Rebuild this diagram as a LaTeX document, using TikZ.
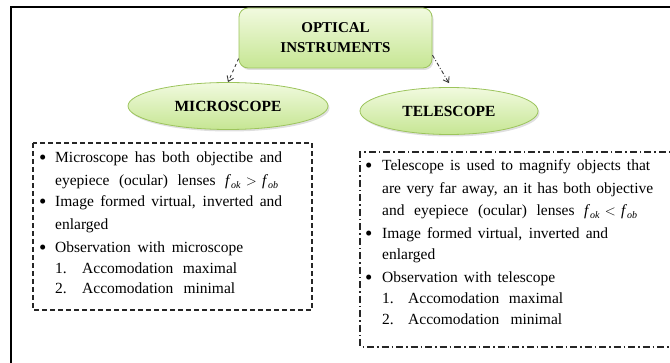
\documentclass[tikz,border=0pt]{standalone}
\usepackage{fontspec}
\setmainfont{Liberation Serif}
\usetikzlibrary{shapes.geometric,shadows,arrows.meta}
\definecolor{gtop}{HTML}{F1FADF}
\definecolor{gbot}{HTML}{C6E693}
\definecolor{gline}{HTML}{9CC45C}
\definecolor{arr}{HTML}{3A3A3A}
\tikzset{
  greenshape/.style={draw=gline, line width=0.8pt, top color=gtop, bottom color=gbot,
    drop shadow={opacity=0.25, shadow xshift=1.5pt, shadow yshift=-2pt}},
  titlebox/.style={greenshape, rectangle, rounded corners=9pt, minimum width=193pt,
    minimum height=60pt, align=center, inner sep=0pt,
    font=\fontsize{15}{20}\selectfont\bfseries},
  oval/.style={greenshape, ellipse, inner sep=0pt, font=\fontsize{15.5}{18}\selectfont\bfseries},
  txt/.style={anchor=base west, inner sep=0pt, font=\fontsize{15.5}{18}\selectfont},
  conn/.style={draw=arr, line width=0.9pt, -{Straight Barb[length=5pt,width=7pt]}},
  frameline/.style={line width=2.5pt, black},
  leftbox/.style={draw=black!85, line width=1.1pt, dash pattern=on 5pt off 3pt},
  rightbox/.style={draw=black!85, line width=1.1pt, dash pattern=on 7pt off 3pt on 1.5pt off 3pt}
}
\newcommand{\bul}{\raisebox{-1.8pt}{\scalebox{1.35}{\textbullet}}}
\newcommand{\fsub}[1]{\mbox{\textit{f}\raisebox{-2.5pt}{\fontsize{10}{10}\selectfont\textit{#1}}}}
\begin{document}
\begin{tikzpicture}[x=1pt,y=-1pt]
\useasboundingbox (0,0) rectangle (670,363);
% outer frame
\draw[frameline] (11,363) -- (11,7) -- (670,7);
% boxes
\draw[leftbox] (33,143) rectangle (312,310);
\draw[rightbox] (680,152) -- (360,152) -- (360,347) -- (680,347);
% nodes
\node[titlebox] (oi) at (335.5,38) {OPTICAL\\INSTRUMENTS};
\node[oval, minimum width=200pt, minimum height=47pt] (mic) at (228,106) {MICROSCOPE};
\node[oval, minimum width=178pt, minimum height=47pt] (tel) at (449,111) {TELESCOPE};
\draw[conn, dashed] (oi.192) -- (mic.north);
\draw[conn, dash pattern=on 4pt off 2pt on 1pt off 2pt] (oi.350) -- ([yshift=4pt]tel.north);
% left text
\node[txt] (l1b) at (39,163) {\bul};
\node[txt] (l1) at (55,163) {\makebox[227pt][s]{Microscope has both objectibe and}};
\node[txt] (l2) at (55,186) {\makebox[223pt][s]{eyepiece (ocular) lenses \mbox{\fsub{ok}\,\,$>$\,\,\fsub{ob}}}};
\node[txt] (l3b) at (39,207) {\bul};
\node[txt] (l3) at (55,207) {\makebox[227pt][s]{Image formed virtual, inverted and}};
\node[txt] (l4) at (55,230) {enlarged};
\node[txt] (l5b) at (39,253) {\bul};
\node[txt] (l5) at (55,253) {\makebox[188pt][s]{Observation with microscope}};
\node[txt] (l6n) at (55,274) {1.};
\node[txt] (l6) at (82,274) {\makebox[155pt][s]{Accomodation maximal}};
\node[txt] (l7n) at (55,294) {2.};
\node[txt] (l7) at (82,294) {\makebox[153pt][s]{Accomodation minimal}};
% right text
\node[txt] (r1b) at (365,171) {\bul};
\node[txt] (r1) at (382,171) {\makebox[268pt][s]{Telescope is used to magnify objects that}};
\node[txt] (r2) at (382,194) {\makebox[271pt][s]{are very far away, an it has both objective}};
\node[txt] (r3) at (382,216) {\makebox[255pt][s]{and eyepiece (ocular) lenses \mbox{\fsub{ok}\,\,$<$\,\,\fsub{ob}}}};
\node[txt] (r4b) at (365,239) {\bul};
\node[txt] (r4) at (382,239) {\makebox[226pt][s]{Image formed virtual, inverted and}};
\node[txt] (r5) at (382,260) {enlarged};
\node[txt] (r6b) at (365,283) {\bul};
\node[txt] (r6) at (382,283) {\makebox[173pt][s]{Observation with telescope}};
\node[txt] (r7n) at (382,304) {1.};
\node[txt] (r7) at (408,304) {\makebox[155pt][s]{Accomodation maximal}};
\node[txt] (r8n) at (382,325) {2.};
\node[txt] (r8) at (408,325) {\makebox[154pt][s]{Accomodation minimal}};
\end{tikzpicture}
\end{document}
